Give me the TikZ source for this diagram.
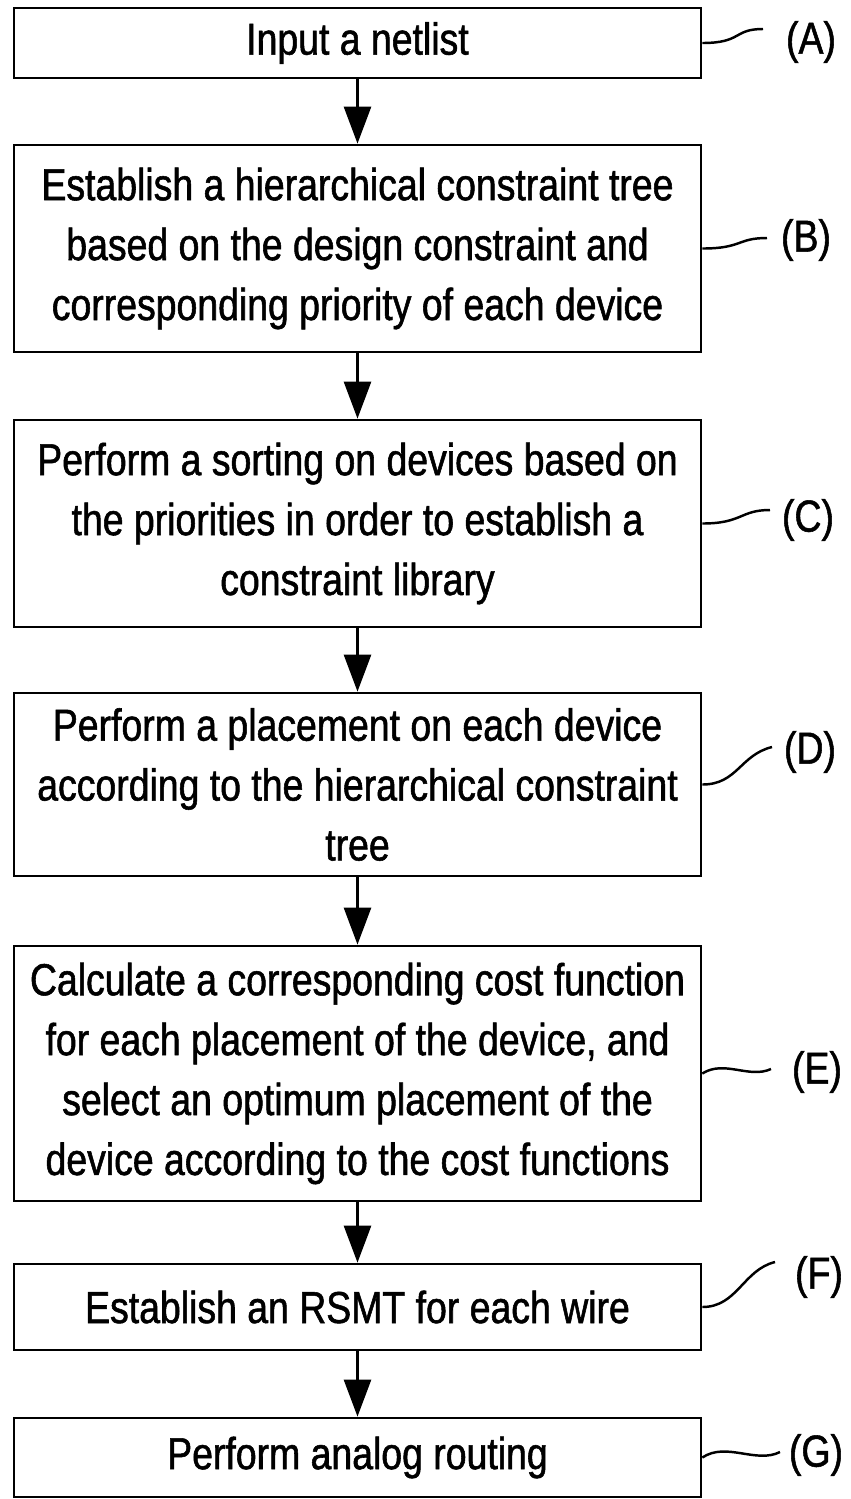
\documentclass[tikz,border=0pt]{standalone}
\usepackage{fontspec}
\setmainfont{Liberation Sans}[FakeStretch=0.835, FakeBold=1.2]
\usetikzlibrary{arrows.meta}
\begin{document}
\begin{tikzpicture}[x=0.02cm, y=-0.02cm,
    stepbox/.style={draw, line width=1.6pt, minimum width=13.74cm, text width=13.7cm,
        align=flush center, inner sep=0pt, font=\fontsize{25.5}{34.1}\selectfont},
    flow/.style={-{Triangle[length=0.74cm, width=0.54cm]}, line width=1.6pt},
    tag/.style={inner sep=0pt, font=\fontsize{25.5}{34.1}\selectfont},
    lead/.style={line width=1.4pt}]
    \useasboundingbox (0,0) rectangle (850,1499);
    \node[stepbox, minimum height=1.4cm] (A) at (357.5,43) {Input a netlist};
    \node[stepbox, minimum height=4.14cm] (B) at (357.5,248.5) {Establish a hierarchical constraint tree\\based on the design constraint and\\corresponding priority of each device};
    \node[stepbox, minimum height=4.14cm] (C) at (357.5,523.5) {Perform a sorting on devices based on\\the priorities in order to establish a\\constraint library};
    \node[stepbox, minimum height=3.66cm] (D) at (357.5,784.5) {Perform a placement on each device\\according to the hierarchical constraint\\tree};
    \node[stepbox, minimum height=5.1cm] (E) at (357.5,1073.5) {Calculate a corresponding cost function\\for each placement of the device, and\\select an optimum placement of the\\device according to the cost functions};
    \node[stepbox, minimum height=1.72cm] (F) at (357.5,1307) {Establish an RSMT for each wire};
    \node[stepbox, minimum height=1.58cm] (G) at (357.5,1457.5) {Perform analog routing};
    \draw[flow] (A) -- (B);
    \draw[flow] (B) -- (C);
    \draw[flow] (C) -- (D);
    \draw[flow] (D) -- (E);
    \draw[flow] (E) -- (F);
    \draw[flow] (F) -- (G);
    \node[tag] (lA) at (811,42) {(A)};
    \node[tag] (lB) at (806,240) {(B)};
    \node[tag] (lC) at (808,520) {(C)};
    \node[tag] (lD) at (810,752) {(D)};
    \node[tag] (lE) at (817,1072) {(E)};
    \node[tag] (lF) at (819,1277) {(F)};
    \node[tag] (lG) at (816,1455) {(G)};
    \coordinate (eA) at (763,29);
    \coordinate (eB) at (767,238);
    \coordinate (eC) at (770,510);
    \coordinate (eD) at (772,747);
    \coordinate (eE) at (771,1069);
    \coordinate (eF) at (775,1262);
    \coordinate (eG) at (780,1452);
    \draw[lead] (A.east) .. controls +(40,0) and +(-30,0) .. (eA);
    \draw[lead] (B.east) .. controls +(40,0) and +(-30,0) .. (eB);
    \draw[lead] (C.east) .. controls +(40,0) and +(-30,0) .. (eC);
    \draw[lead] (D.east) .. controls +(35,0) and +(-32,8) .. (eD);
    \draw[lead] (E.east) .. controls +(22,-14) and +(-22,10) .. (eE);
    \draw[lead] (F.east) .. controls +(35,0) and +(-32,8) .. (eF);
    \draw[lead] (G.east) .. controls +(24,-16) and +(-24,12) .. (eG);
\end{tikzpicture}
\end{document}
